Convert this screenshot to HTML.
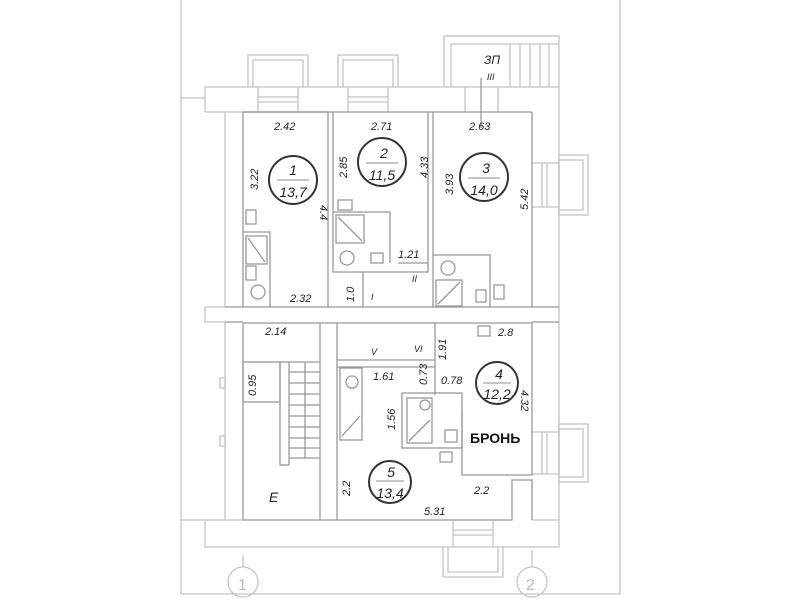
<!DOCTYPE html>
<html><head><meta charset="utf-8"><style>
html,body{margin:0;padding:0;background:#fff;}
svg{display:block}
text{font-family:"Liberation Sans",sans-serif;font-style:italic;fill:#222;}
</style></head><body>
<svg width="800" height="600" viewBox="0 0 800 600" xmlns="http://www.w3.org/2000/svg">
<g fill="none" stroke="#c4c4c4" stroke-width="1.3">
 <!-- frame -->
 <line x1="181" y1="0" x2="181" y2="594"/>
 <line x1="620" y1="0" x2="620" y2="594"/>
 <line x1="181" y1="594" x2="620" y2="594"/>
 <!-- outer walls -->
 <polyline points="205,112 205,87 443,87"/>
 <polyline points="559,87 559,520"/>
 <line x1="205" y1="112" x2="243" y2="112"/>
 <line x1="225" y1="112" x2="225" y2="307"/>
 <polyline points="205,307 205,322 225,322"/>
 <line x1="205" y1="307" x2="225" y2="307"/>
 <line x1="225" y1="322" x2="225" y2="520"/>
 <polyline points="205,520 205,547 559,547 559,520 532,520"/>
 <line x1="205" y1="520" x2="243" y2="520"/>
 <line x1="181" y1="98" x2="205" y2="98"/>
 <line x1="181" y1="520" x2="205" y2="520"/>
 <rect x="220" y="378" width="5" height="10"/>
 <rect x="220" y="436" width="5" height="10"/>
 <!-- top windows -->
 <polyline points="248,87 248,55 308,55 308,87"/><polyline points="253,87 253,60 303,60 303,87"/>
 <line x1="258" y1="87" x2="258" y2="112"/><line x1="298" y1="87" x2="298" y2="112"/>
 <line x1="258" y1="97" x2="298" y2="97"/><line x1="258" y1="102" x2="298" y2="102"/>
 <polyline points="338,87 338,55 398,55 398,87"/><polyline points="343,87 343,60 393,60 393,87"/>
 <line x1="348" y1="87" x2="348" y2="112"/><line x1="388" y1="87" x2="388" y2="112"/>
 <line x1="348" y1="97" x2="388" y2="97"/><line x1="348" y1="102" x2="388" y2="102"/>
 <!-- stair 3P -->
 <rect x="444" y="36" width="115" height="51"/>
 <polyline points="451,87 451,44 559,44"/>
 <line x1="510" y1="44" x2="510" y2="87"/><line x1="520" y1="44" x2="520" y2="87"/>
 <line x1="530" y1="44" x2="530" y2="87"/><line x1="540" y1="44" x2="540" y2="87"/>
 <line x1="549" y1="44" x2="549" y2="87"/>
 <line x1="465" y1="87" x2="465" y2="112"/><line x1="498" y1="87" x2="498" y2="112"/>
 <line x1="481" y1="78" x2="481" y2="128" stroke="#999"/>
 <!-- right windows -->
 <rect x="559" y="155" width="29" height="60"/><rect x="559" y="160" width="24" height="50"/>
 <line x1="532" y1="163" x2="559" y2="163"/><line x1="532" y1="207" x2="559" y2="207"/>
 <line x1="542" y1="163" x2="542" y2="207"/><line x1="547" y1="163" x2="547" y2="207"/>
 <rect x="559" y="424" width="29" height="58"/><rect x="559" y="429" width="24" height="48"/>
 <line x1="532" y1="432" x2="559" y2="432"/><line x1="532" y1="474" x2="559" y2="474"/>
 <line x1="542" y1="432" x2="542" y2="474"/><line x1="547" y1="432" x2="547" y2="474"/>
 <!-- bottom window -->
 <polyline points="443,547 443,577 503,577 503,547"/><polyline points="448,547 448,572 498,572 498,547"/>
 <line x1="453" y1="520" x2="453" y2="547"/><line x1="493" y1="520" x2="493" y2="547"/>
 <line x1="453" y1="530" x2="493" y2="530"/><line x1="453" y1="535" x2="493" y2="535"/>
 <!-- axes -->
 <line x1="243" y1="555" x2="243" y2="567"/><circle cx="243" cy="582" r="15"/>
 <line x1="532" y1="550" x2="532" y2="567"/><circle cx="532" cy="582" r="15"/>
</g>
<text x="238" y="590" font-size="16" style="font-style:normal;fill:#bbb">1</text>
<text x="526" y="590" font-size="16" style="font-style:normal;fill:#bbb">2</text>
<g fill="none" stroke="#999" stroke-width="1.3">
 <!-- upper rooms -->
 <rect x="243" y="112" width="85" height="195"/>
 <polyline points="333,112 333,272 428,272 428,112"/>
 <polyline points="363,272 363,307"/><polyline points="433,112 433,307 532,307 532,112"/>
 <line x1="243" y1="112" x2="532" y2="112"/>
 <line x1="398" y1="263" x2="428" y2="263"/>
 <line x1="328" y1="307" x2="433" y2="307"/>
 <line x1="225" y1="307" x2="243" y2="307"/><line x1="532" y1="307" x2="559" y2="307"/>
 <line x1="225" y1="322" x2="243" y2="322"/><line x1="532" y1="322" x2="559" y2="322"/>
 <!-- room1 bath -->
 <polyline points="243,232 270,232 270,307"/>
 <rect x="246" y="236" width="21" height="28"/><line x1="248" y1="238" x2="265" y2="262"/>
 <rect x="246" y="210" width="10" height="14"/><rect x="246" y="266" width="10" height="14"/>
 <circle cx="258" cy="292" r="7"/>
 <!-- room2 bath -->
 <polyline points="333,212 390,212 390,263"/>
 <rect x="336" y="215" width="28" height="28"/><line x1="338" y1="217" x2="362" y2="241"/>
 <rect x="338" y="200" width="14" height="10"/><circle cx="347" cy="258" r="7"/>
 <rect x="371" y="253" width="12" height="10"/>
 <!-- room3 bath -->
 <polyline points="433,255 490,255 490,307"/>
 <rect x="436" y="280" width="26" height="26"/><line x1="438" y1="304" x2="460" y2="282"/>
 <circle cx="448" cy="268" r="7"/><rect x="476" y="290" width="10" height="12"/>
 <rect x="494" y="285" width="10" height="14"/>
 <!-- lower rooms -->
 <rect x="243" y="323" width="77" height="197"/>
 <polyline points="337,520 337,323 532,323 532,475 462,475 462,413"/>
 <polyline points="337,520 512,520 512,480 532,480 532,520"/>
 <line x1="320" y1="323" x2="337" y2="323"/>
 <line x1="320" y1="520" x2="337" y2="520"/>
 <line x1="337" y1="367" x2="435" y2="367"/>
 <line x1="435" y1="323" x2="435" y2="395"/>
 <line x1="337" y1="360" x2="435" y2="360"/>
 <!-- stair E -->
 <rect x="243" y="362" width="37" height="40"/>
 <rect x="280" y="362" width="9" height="103"/>
 <path d="M289 362H320M289 372H320M289 383H320M289 394H320M289 405H320M289 416H320M289 427H320M289 438H320M289 448H320M289 458H320M305 362V458"/>
 <!-- room5 bath left -->
 <rect x="340" y="368" width="22" height="72"/><line x1="342" y1="436" x2="360" y2="416"/>
 <circle cx="352" cy="382" r="6"/>
 <!-- center bath -->
 <rect x="402" y="393" width="60" height="55"/>
 <rect x="407" y="398" width="25" height="45"/><line x1="409" y1="441" x2="430" y2="420"/>
 <circle cx="425" cy="405" r="5"/><rect x="445" y="430" width="12" height="12"/>
 <rect x="440" y="452" width="12" height="10"/>
 <rect x="478" y="326" width="12" height="10"/>
</g>
<g font-size="11">
 <text x="274" y="130">2.42</text><text x="371" y="130">2.71</text><text x="469" y="130">2.63</text>
 <text x="484" y="64" font-size="12">ЗП</text><text x="487" y="80" font-size="9">III</text>
 <text transform="translate(258,190) rotate(-90)">3.22</text>
 <text transform="translate(320,205) rotate(90)">4.4</text>
 <text transform="translate(347,178) rotate(-90)">2.85</text>
 <text transform="translate(428,178) rotate(-90)">4.33</text>
 <text transform="translate(453,195) rotate(-90)">3.93</text>
 <text transform="translate(528,210) rotate(-90)">5.42</text>
 <text x="398" y="258">1.21</text><text x="412" y="282" font-size="9">II</text>
 <text x="290" y="302">2.32</text><text transform="translate(354,302) rotate(-90)">1.0</text>
 <text x="371" y="300" font-size="9">I</text>
 <text x="265" y="335">2.14</text><text x="498" y="336">2.8</text>
 <text x="371" y="355" font-size="9">V</text><text x="414" y="352" font-size="9">VI</text>
 <text transform="translate(446,360) rotate(-90)">1.91</text>
 <text x="373" y="380">1.61</text><text transform="translate(427,385) rotate(-90)">0.73</text>
 <text x="441" y="384">0.78</text>
 <text transform="translate(256,396) rotate(-90)">0.95</text>
 <text transform="translate(395,430) rotate(-90)">1.56</text>
 <text transform="translate(521,390) rotate(90)">4.32</text>
 <text transform="translate(350,496) rotate(-90)">2.2</text>
 <text x="474" y="494">2.2</text><text x="424" y="515">5.31</text>
 <text x="269" y="502" font-size="14">E</text>
</g>
<text x="470" y="443" font-size="14" style="font-style:normal;font-weight:bold;fill:#111">БРОНЬ</text>
<g fill="none" stroke="#333" stroke-width="2">
 <circle cx="293" cy="180" r="24"/><circle cx="382" cy="162" r="24"/><circle cx="484" cy="177" r="24"/>
 <circle cx="497" cy="383" r="21"/><circle cx="390" cy="482" r="21"/>
</g>
<g stroke="#666" stroke-width="0.8">
 <line x1="277" y1="180" x2="309" y2="180"/><line x1="366" y1="163" x2="398" y2="163"/>
 <line x1="468" y1="178" x2="500" y2="178"/><line x1="483" y1="383" x2="511" y2="383"/>
 <line x1="376" y1="481" x2="404" y2="481"/>
</g>
<g font-size="14" text-anchor="middle">
 <text x="293" y="175">1</text><text x="293" y="197">13,7</text>
 <text x="384" y="158">2</text><text x="382" y="180">11,5</text>
 <text x="486" y="173">3</text><text x="484" y="195">14,0</text>
 <text x="499" y="379">4</text><text x="497" y="399">12,2</text>
 <text x="391" y="477">5</text><text x="390" y="498">13,4</text>
</g>
</svg>
</body></html>
